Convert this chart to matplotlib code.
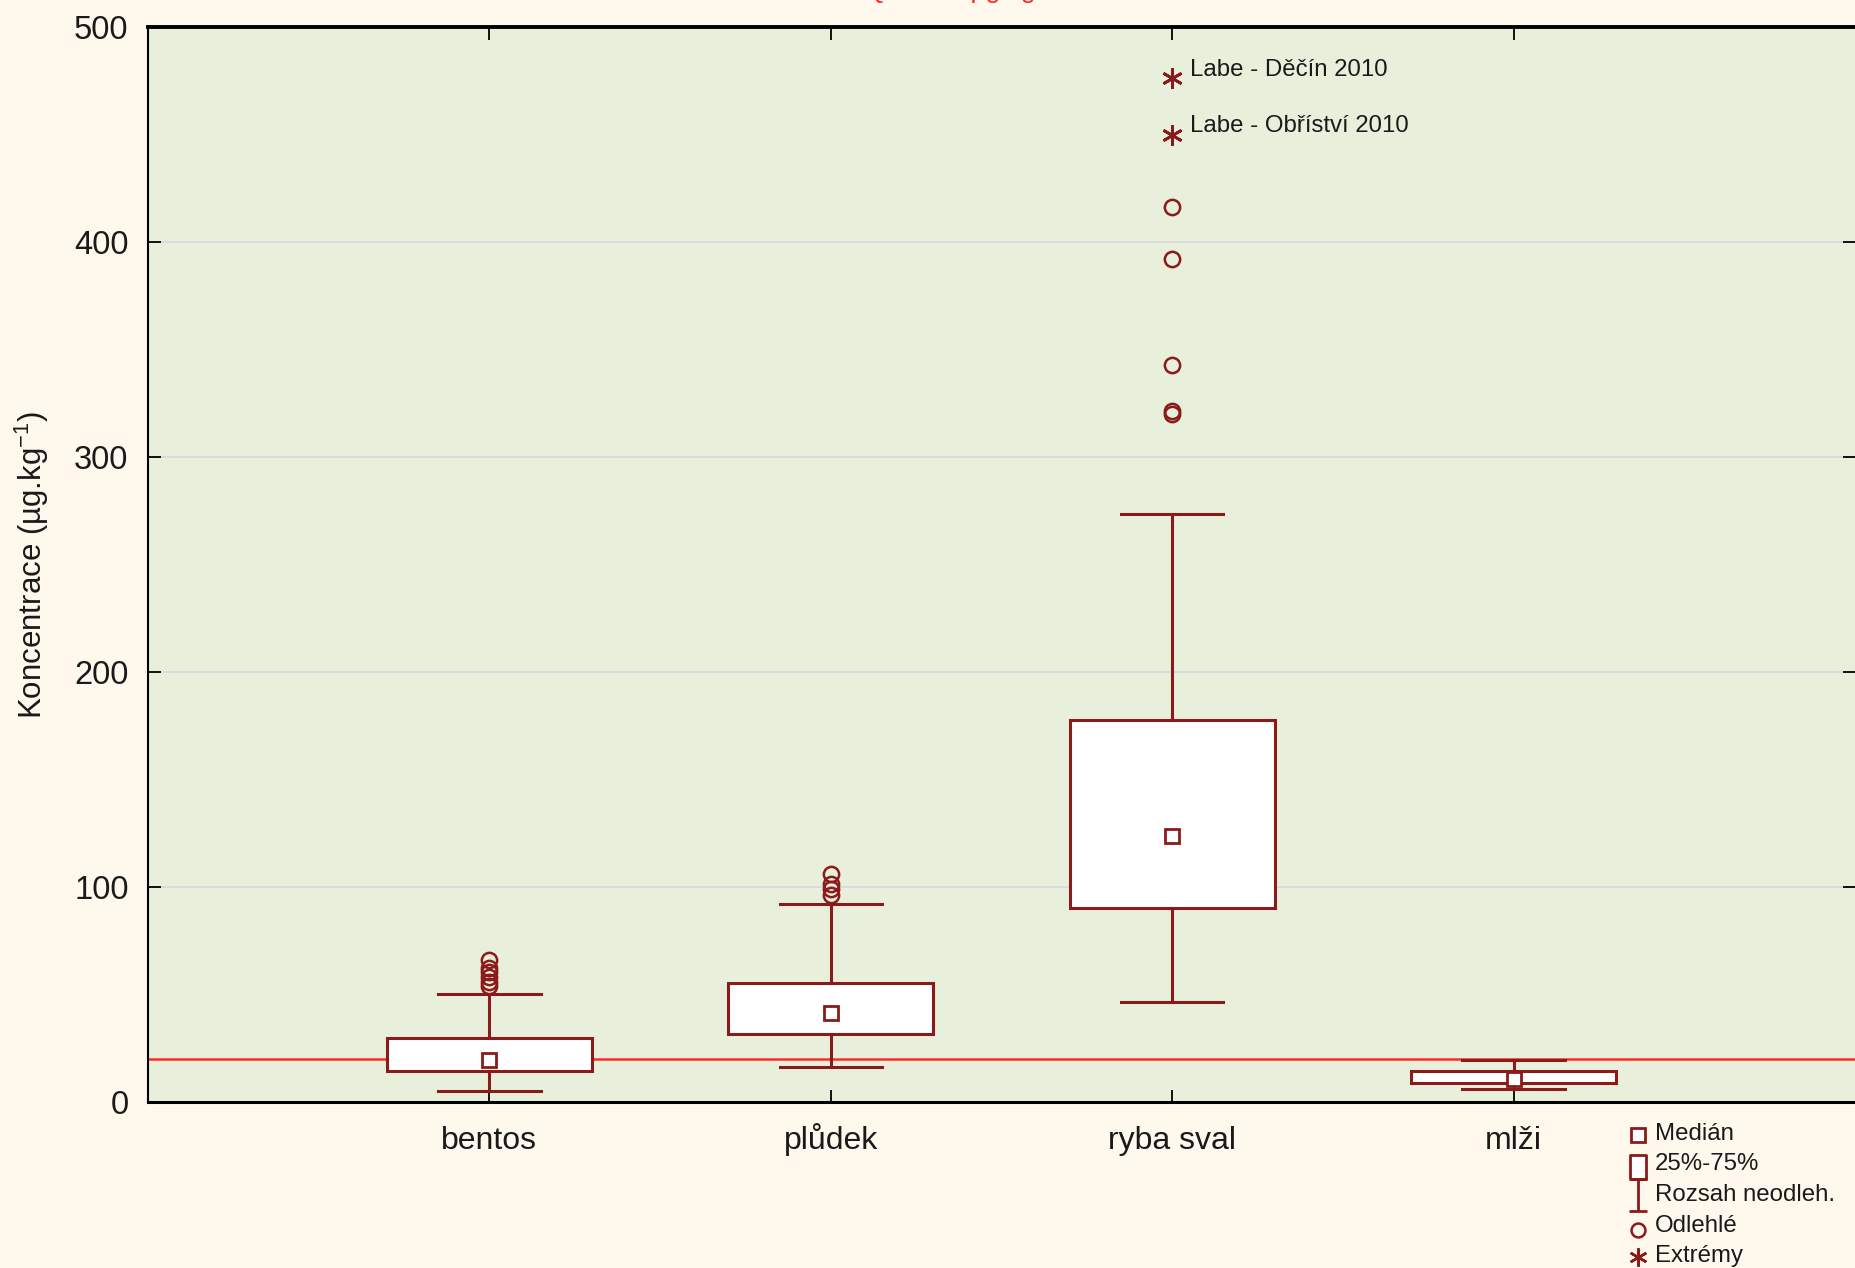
import numpy as np
import matplotlib.pyplot as plt
from matplotlib.path import Path

plt.rcParams['font.family'] = ['Liberation Sans', 'DejaVu Sans']
plt.rcParams['mathtext.fontset'] = 'custom'
plt.rcParams['mathtext.rm'] = 'Liberation Sans'

# data
categories = ['bentos', 'plůdek', 'ryba sval', 'mlži']
q1 = [14.6, 31.5, 90.3, 9.0]
medians = [19.7, 41.3, 123.5, 10.8]
q3 = [29.6, 55.5, 177.8, 14.6]
whisk_lo = [5.3, 16.5, 46.5, 6.2]
whisk_hi = [50.1, 92.0, 273.7, 19.4]
outliers = [[54, 56, 58, 60.5, 62.5, 66],
            [96.5, 99, 101.5, 106],
            [319.8, 321.2, 342.8, 392.2, 416.4],
            []]
extremes = [450.0, 476.3]
extreme_labels = ['Labe - Obříství 2010', 'Labe - Děčín 2010']
extreme_cat = 3
limit = 20
yticks = [0, 100, 200, 300, 400, 500]
legend_labels = ['Medián', '25%-75%', 'Rozsah neodleh.', 'Odlehlé', 'Extrémy']

dark = '#8b1a1a'
fig_bg = '#fef9ec'
ax_bg = '#e8f0dc'
txt = '#1a1a1a'

fig = plt.figure(figsize=(18.55, 12.68), dpi=100, facecolor=fig_bg)
ax = fig.add_axes([148/1855, 1 - 1102/1268, 1 - 148/1855, (1102 - 27)/1268])
ax.set_facecolor(ax_bg)

pos = np.arange(1, len(categories) + 1)
stats = []
for i, c in enumerate(categories):
    stats.append(dict(label=c, med=medians[i], mean=medians[i], q1=q1[i], q3=q3[i],
                      whislo=whisk_lo[i], whishi=whisk_hi[i], fliers=outliers[i]))

ax.axhline(limit, color='#ff2a2a', lw=1.8, zorder=1.5)

ax.bxp(stats, positions=pos, widths=0.6, capwidths=0.3, showmeans=True, patch_artist=True,
       boxprops=dict(facecolor='white', edgecolor=dark, linewidth=2.2),
       whiskerprops=dict(color=dark, linewidth=2.2),
       capprops=dict(color=dark, linewidth=2.2),
       medianprops=dict(linewidth=0),
       meanprops=dict(marker='s', markersize=10.5, markerfacecolor='white',
                      markeredgecolor=dark, markeredgewidth=2),
       flierprops=dict(marker='o', markersize=11, markerfacecolor='none',
                       markeredgecolor=dark, markeredgewidth=1.8))

ax.plot([extreme_cat] * len(extremes), extremes, ls='none', marker=(6, 2, 0),
        markersize=15, color=dark, markeredgewidth=2, zorder=3)
for v, lab in zip(extremes, extreme_labels):
    ax.annotate(lab, (extreme_cat, v), xytext=(13, 6), textcoords='offset points',
                va='center', ha='left', fontsize=17.3, color=txt)

ax.set_xlim(0, 5)
ax.set_ylim(0, 500)
ax.set_yticks(yticks)
ax.yaxis.grid(True, color='#d6d6e0', lw=1.2)
ax.set_axisbelow(True)

ax.tick_params(axis='x', direction='in', top=True, bottom=True, length=9, width=1.3,
               pad=34, labelsize=23, labelcolor=txt)
ax.tick_params(axis='y', direction='in', left=True, right=True, length=9, width=1.3,
               pad=14, labelsize=23.5, labelcolor=txt)
for lab in ax.get_xticklabels():
    lab.set_verticalalignment('baseline')

ax.spines['right'].set_visible(False)
ax.spines['left'].set_linewidth(1.5)
ax.spines['top'].set_linewidth(2.8)
ax.spines['bottom'].set_linewidth(2.2)

ax.set_ylabel('Koncentrace (µg.kg$^{\\mathregular{-1}}$)', fontsize=22.5, color=txt)
ax.yaxis.set_label_coords(-0.057, 0.5)

# title, mostly cut off at the top edge
fig.text(1036/1855, 1.0 + 2/1268, 'EQS = 20 µg/kg', color='#ff2a2a', fontsize=19,
         ha='right', va='baseline')

# legend drawn in pixel coordinates
lax = fig.add_axes([0, 0, 1, 1])
lax.set_xlim(0, 1855)
lax.set_ylim(1268, 0)
lax.axis('off')

rect = [(-0.7, -1), (0.7, -1), (0.7, 1), (-0.7, 1), (-0.7, -1)]
ibeam = Path([(-0.55, 1), (0.55, 1), (0, 1), (0, -1), (-0.55, -1), (0.55, -1)],
             [Path.MOVETO, Path.LINETO, Path.MOVETO, Path.LINETO, Path.MOVETO, Path.LINETO])
leg_markers = [dict(marker='s', markersize=10, markerfacecolor='white', markeredgewidth=2),
               dict(marker=rect, markersize=17, markerfacecolor='white', markeredgewidth=2),
               dict(marker=ibeam, markersize=23, markeredgewidth=2),
               dict(marker='o', markersize=10, markerfacecolor='none', markeredgewidth=1.8),
               dict(marker=(6, 2, 0), markersize=13, markeredgewidth=1.8)]
leg_y0, leg_dy = 1134, 30.5
marker_dy = [1, 2, 0, 4, 1]
for i, (lab, mk) in enumerate(zip(legend_labels, leg_markers)):
    y = leg_y0 + i * leg_dy
    lax.plot([1638], [y + marker_dy[i]], ls='none', color=dark, markeredgecolor=dark, **mk)
    lax.text(1655, y, lab, fontsize=17.3, va='center', ha='left', color=txt)

fig.savefig('out.png', dpi=100, facecolor=fig.get_facecolor())
